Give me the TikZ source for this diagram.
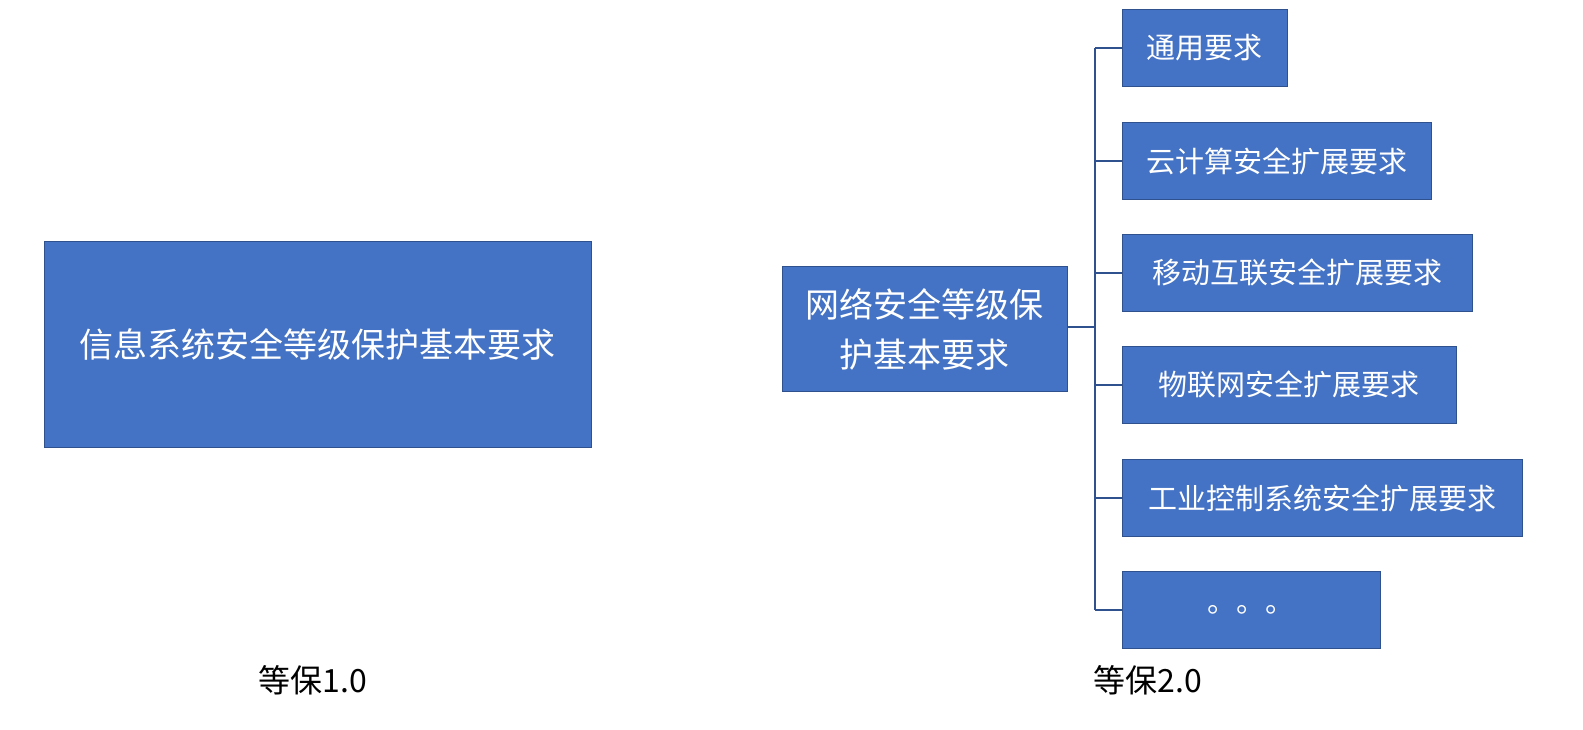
\documentclass[tikz,border=0pt]{standalone}
\usepackage{fontspec}
\setmainfont{Noto Sans CJK SC}
\definecolor{boxblue}{HTML}{4472C4}
\definecolor{edgeblue}{HTML}{2F528F}
\begin{document}
\begin{tikzpicture}[x=1pt,y=-1pt,
  box/.style={draw=edgeblue,line width=0.8pt,fill=boxblue,text=white,inner sep=0pt,anchor=north west},
  conn/.style={draw=edgeblue,line width=1.6pt}]
\useasboundingbox (0,0) rectangle (1583,729);
\node[box,minimum width=547pt,minimum height=206pt,font=\fontsize{34}{40}\selectfont] (a) at (44,241) {信息系统安全等级保护基本要求};
\node[box,minimum width=285pt,minimum height=125pt,align=center,font=\fontsize{34}{50}\selectfont] (m) at (782,266) {网络安全等级保\\护基本要求};
\tikzset{sb/.style={box,minimum height=77pt,font=\fontsize{29}{34}\selectfont}}
\node[sb,minimum width=165pt] (b1) at (1122,9) {通用要求};
\node[sb,minimum width=309pt] (b2) at (1122,122) {云计算安全扩展要求};
\node[sb,minimum width=350pt] (b3) at (1122,234) {移动互联安全扩展要求};
\node[sb,minimum width=334pt] (b4) at (1122,346) {物联网安全扩展要求};
\node[sb,minimum width=400pt] (b5) at (1122,459) {工业控制系统安全扩展要求};
\node[sb,minimum width=258pt] (b6) at (1122,571) {。。。};
\coordinate (j) at (1095,327);
\draw[conn] (m.east |- j) -- (j);
\draw[conn] (j |- b1.west) -- (j |- b6.west);
\foreach \i in {1,...,6} \draw[conn] (j |- b\i.west) -- (b\i.west);
\node[font=\fontsize{32}{38}\selectfont] (l1) at (313,680) {等保1.0};
\node[font=\fontsize{32}{38}\selectfont] (l2) at (1148,680) {等保2.0};
\end{tikzpicture}
\end{document}
